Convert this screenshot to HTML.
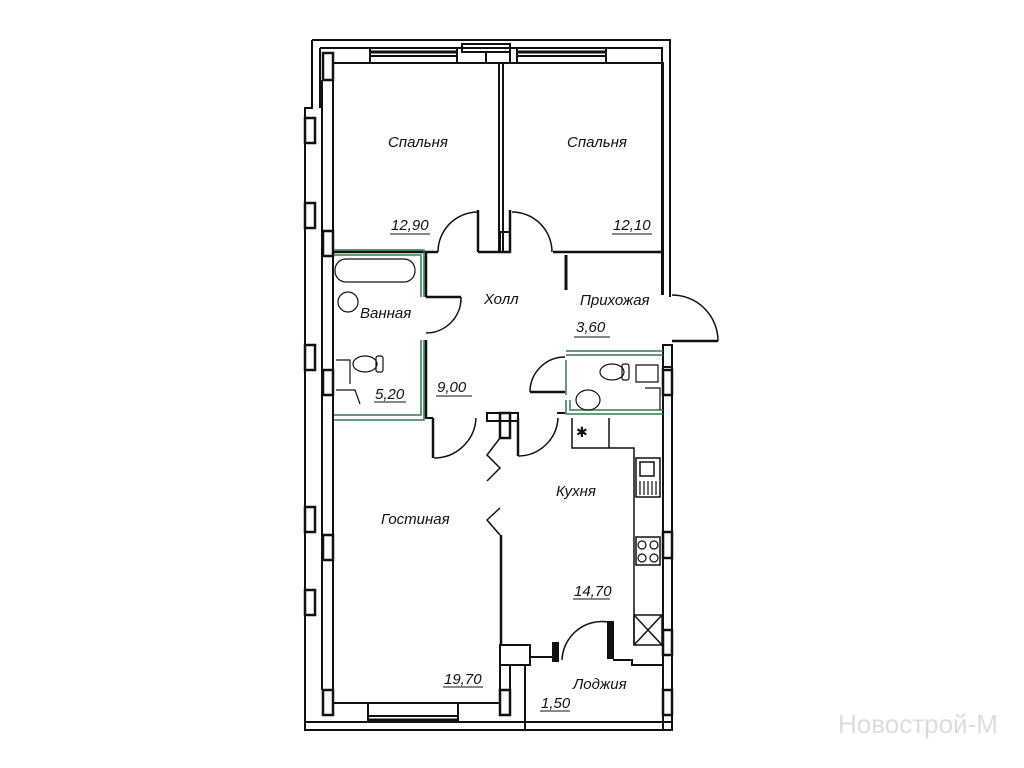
<!DOCTYPE html>
<html><head><meta charset="utf-8"><style>
html,body{margin:0;padding:0;background:#fff;width:1024px;height:768px;overflow:hidden}
svg{display:block}
text{font-family:"Liberation Sans","DejaVu Sans",sans-serif;font-style:italic;font-size:15px;fill:#111}
</style></head><body>
<svg width="1024" height="768" viewBox="0 0 1024 768" xmlns="http://www.w3.org/2000/svg">
<g fill="none" stroke="#111" stroke-width="2">
<path d="M312 40 H670 V297"/>
<path d="M312 40 V108 H305 V730 H672 V345"/>
<path d="M320 48 H662 V295"/>
<path d="M320 48 V108"/>
<path d="M333 63 H663 V252"/>
<path d="M333 63 V703 H500"/>
<path d="M370 48 V63 M457 48 V63 M370 56 H457"/>
<path d="M370 52 H457" stroke-width="3"/>
<path d="M517 48 V63 M606 48 V63 M517 56 H606"/>
<path d="M517 52 H606" stroke-width="3"/>
<rect x="462" y="44" width="48" height="8"/>
<rect x="486" y="52" width="24" height="11"/>
<path d="M368 703 V722 M458 703 V722 M368 716 H458"/>
<path d="M368 720 H458" stroke-width="3"/>
<path d="M305 722 H672"/>
<rect x="323" y="53" width="10" height="27" stroke-width="2.5"/>
<rect x="305" y="118" width="10" height="25" stroke-width="2.5"/>
<rect x="305" y="203" width="10" height="25" stroke-width="2.5"/>
<rect x="323" y="231" width="10" height="25" stroke-width="2.5"/>
<rect x="305" y="345" width="10" height="25" stroke-width="2.5"/>
<rect x="323" y="370" width="10" height="25" stroke-width="2.5"/>
<rect x="305" y="507" width="10" height="25" stroke-width="2.5"/>
<rect x="323" y="535" width="10" height="25" stroke-width="2.5"/>
<rect x="305" y="590" width="10" height="25" stroke-width="2.5"/>
<rect x="323" y="690" width="10" height="25" stroke-width="2.5"/>
<path d="M322 80 V690"/>
<rect x="663" y="345" width="9" height="22" stroke-width="2"/>
<rect x="663" y="370" width="9" height="25" stroke-width="2.5"/>
<rect x="663" y="532" width="9" height="26" stroke-width="2.5"/>
<rect x="663" y="630" width="9" height="25" stroke-width="2.5"/>
<rect x="663" y="690" width="9" height="25" stroke-width="2.5"/>
<path d="M663 252 V295 M663 345 V730"/>
<path d="M499 63 V252 M503 63 V252"/>
<path d="M333 252 H438 M478 252 V210 M478 252 H510 V210" stroke-width="2.5"/>
<rect x="500" y="232" width="10" height="20" stroke-width="2"/>
<path d="M553 252 H663" stroke-width="2.5"/>
<path d="M438 252 A40 40 0 0 1 478 212" stroke-width="1.5"/>
<path d="M512 212 A40 40 0 0 1 552 252" stroke-width="1.5"/>
<path d="M566 255 V290" stroke-width="3"/>
<path d="M426 252 V297 M426 340 V418" stroke-width="2.5"/>
<path d="M426 297 H461" stroke-width="2.5"/>
<path d="M461 297 A35 35 0 0 1 426 333" stroke-width="1.5"/>
<path d="M433 418 V458" stroke-width="2.5"/>
<path d="M433 418 H425" stroke-width="2"/>
<path d="M672 341 H718" stroke-width="2.5"/>
<path d="M672 295 A46 46 0 0 1 718 341" stroke-width="1.5"/>
<path d="M530 392 H565" stroke-width="2.5"/>
<path d="M530 392 A35 35 0 0 1 565 357" stroke-width="1.5"/>
<path d="M434 458 A42 42 0 0 0 476 418" stroke-width="1.5"/>
<rect x="487" y="413" width="31" height="8" stroke-width="2"/>
<rect x="500" y="413" width="10" height="25" stroke-width="2.5"/>
<path d="M518 418 V456" stroke-width="2.5"/>
<path d="M518 456 A40 40 0 0 0 558 418" stroke-width="1.5"/>
<path d="M557 413 H565"/>
<path d="M500 438 L487 455 L500 468 L487 481" stroke-width="1.5"/>
<path d="M500 508 L487 520 L500 535" stroke-width="1.5"/>
<path d="M501 535 V645" stroke-width="2.5"/>
<path d="M572 418 V448 H634 V645" stroke-width="1.5"/>
<path d="M609 418 V448" stroke-width="1.5"/>
<rect x="636" y="458" width="24" height="39" stroke-width="1.5"/>
<rect x="640" y="462" width="14" height="14" stroke-width="1.5"/>
<path d="M640 481 V495 M644 481 V495 M648 481 V495 M652 481 V495 M656 481 V495" stroke-width="1.2"/>
<rect x="636" y="537" width="24" height="28" stroke-width="1.5"/>
<circle cx="642" cy="545" r="4" stroke-width="1.2"/><circle cx="654" cy="545" r="4" stroke-width="1.2"/>
<circle cx="642" cy="558" r="4" stroke-width="1.2"/><circle cx="654" cy="558" r="4" stroke-width="1.2"/>
<rect x="634" y="615" width="28" height="30" stroke-width="1.5"/>
<path d="M634 615 L662 645 M662 615 L634 645" stroke-width="1.5"/>
<rect x="500" y="645" width="30" height="20"/>
<path d="M530 657 H555 V644 M555 644 V657" stroke-width="2"/>
<rect x="553" y="643" width="5" height="18" fill="#111"/>
<rect x="608" y="622" width="5" height="36" fill="#111"/>
<path d="M562 660 A40 40 0 0 1 608 622" stroke-width="1.5"/>
<path d="M613 660 H632 V665 H663"/>
<path d="M530 665 H525 V730"/>
<path d="M500 665 V703 M510 665 V715"/>
<rect x="500" y="690" width="10" height="25" stroke-width="2.5"/>
<path d="M525 722 H663"/>
</g>
<g fill="none" stroke="#2e7d4f" stroke-width="1.5">
<path d="M334 250 H424 V297 M334 255 H421 V297"/>
<path d="M421 340 V415 H334 M424 340 V420 H334"/>
<path d="M566 351 H663 M566 355 H663"/>
<path d="M566 360 V395 M566 400 V414 H663 M570 400 V410 H663"/>
</g>
<g fill="none" stroke="#111" stroke-width="1.2">
<rect x="335" y="259" width="80" height="23" rx="11"/>
<circle cx="348" cy="302" r="10"/>
<ellipse cx="365" cy="364" rx="12" ry="8"/><rect x="376" y="356" width="7" height="16" rx="2"/>
<path d="M336 360 H350 V384 M336 390 H355 L360 404"/>
<ellipse cx="612" cy="372" rx="12" ry="8"/><rect x="622" y="364" width="7" height="16" rx="2"/>
<path d="M636 365 H658 V382 H636 Z"/>
<ellipse cx="588" cy="400" rx="12" ry="10"/>
<path d="M645 388 H660 V410"/>
</g>
<text x="576" y="437" style="font-style:normal;font-size:14px">✱</text>
<g>
<text x="388" y="147">Спальня</text>
<text x="567" y="147">Спальня</text>
<text x="391" y="230">12,90</text>
<text x="613" y="230">12,10</text>
<text x="360" y="318">Ванная</text>
<text x="484" y="304">Холл</text>
<text x="580" y="305">Прихожая</text>
<text x="576" y="332">3,60</text>
<text x="375" y="399">5,20</text>
<text x="437" y="392">9,00</text>
<text x="556" y="496">Кухня</text>
<text x="381" y="524">Гостиная</text>
<text x="574" y="596">14,70</text>
<text x="444" y="684">19,70</text>
<text x="573" y="689">Лоджия</text>
<text x="541" y="708">1,50</text>
</g>
<g stroke="#111" stroke-width="1">
<path d="M390 234 H430 M612 234 H652 M574 337 H610 M374 402 H406 M436 396 H472 M573 599 H610 M443 687 H483 M540 711 H570"/>
</g>
<text x="838" y="733" style="font-size:26px;fill:#dcdcdc;font-style:normal">Новострой-М</text>
</svg>
</body></html>
